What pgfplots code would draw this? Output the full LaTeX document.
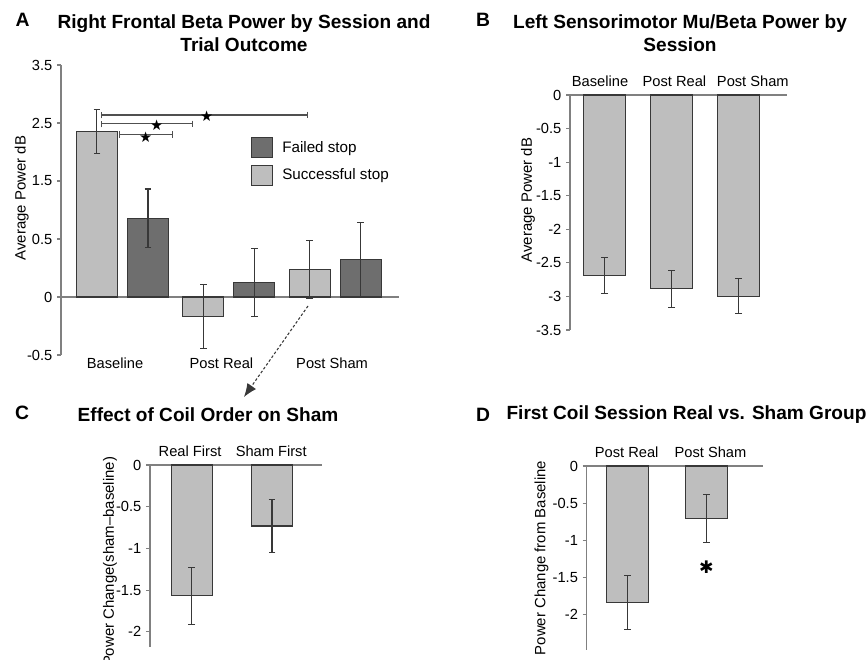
\documentclass[border=0pt]{standalone}
\usepackage{pgfplots}
\pgfplotsset{compat=1.18}
\usepackage{fontspec}
\setmainfont{Liberation Sans}
\newfontfamily\symfont{DejaVu Sans}
\usetikzlibrary{arrows.meta}

\definecolor{lightbar}{HTML}{BEBEBE}
\definecolor{darkbar}{HTML}{6E6E6E}
\definecolor{edge}{HTML}{383838}
\definecolor{axgray}{HTML}{808080}
\definecolor{brk}{HTML}{505050}

\pgfplotsset{
  barpanel/.style={
    scale only axis, clip=false,
    axis y line*=left,
    axis line style={draw=axgray, line width=0.8pt},
    tick align=outside, major tick length=3pt,
    ytick style={draw=axgray, line width=0.8pt},
    xtick style={draw=none},
    /pgf/number format/assume math mode=true,
    tick label style={font=\fontsize{11}{13}\selectfont},
    label style={font=\fontsize{11.2}{13}\selectfont},
  },
  gbar/.style={ybar, bar shift=0pt, draw=edge, line width=0.8pt, fill=#1,
    /pgfplots/error bars/y dir=both,
    /pgfplots/error bars/y explicit,
    /pgfplots/error bars/error bar style={draw=edge, line width=0.8pt},
    /pgfplots/error bars/error mark options={rotate=90, mark size=2.5pt, draw=edge, line width=0.8pt}},
  lgbox/.style={legend image code/.code={\draw[##1] (0pt,-7.5pt) rectangle (15.75pt,7.5pt);}},
}

\begin{document}
\begin{tikzpicture}[x=0.75pt,y=0.75pt]
\useasboundingbox (0,0) rectangle (868,660);

% panel titles
\tikzset{ttl/.style={font=\bfseries\fontsize{14.3}{17.5}\selectfont, align=center, inner sep=0pt},
         lbl/.style={font=\bfseries\fontsize{14.5}{16}\selectfont, inner sep=0pt}}
\node[lbl] at (22.5,640) {A};
\node[ttl] at (244,626.5) {Right Frontal Beta Power by Session and\\Trial Outcome};
\node[lbl] at (483,640) {B};
\node[ttl] at (680,626.5) {Left Sensorimotor Mu/Beta Power by\\Session};
\node[lbl] at (22,247) {C};
\node[ttl] at (208,245) {Effect of Coil Order on Sham};
\node[lbl] at (483,245) {D};
\node[ttl] at (686.5,245) {First Coil Session Real vs. Sham Group};

% A
\begin{axis}[barpanel, at={(45.75pt,446.25pt)}, anchor=north west,
  width=253.5pt, height=217.5pt,
  xmin=0.422, xmax=3.599, ymin=-0.5, ymax=2,
  axis x line*=bottom, x axis line style={draw=none},
  xtick={0.93,1.93,2.97}, xticklabels={Baseline,Post Real,Post Sham},
  xticklabel style={yshift=4.5pt},
  ytick={-0.5,0,0.5,1,1.5,2}, yticklabels={-0.5,0,0.5,1.5,2.5,3.5},
  ylabel={Average Power dB},
  ylabel style={at={(axis description cs:-0.116,0.541)}, anchor=center},
  legend style={draw=none, fill=none, at={(rel axis cs:0.561,0.752)}, anchor=north west,
    inner sep=0pt, row sep=5pt, font=\fontsize{11.4}{13}\selectfont,
    /tikz/every odd column/.append style={column sep=5pt}},
  legend cell align=left]
\draw[axgray, line width=0.8pt] (axis cs:0.422,0) -- (axis cs:3.599,0);
\addplot[gbar=darkbar, bar width=0.385, lgbox] coordinates
  {(1.24,0.678) +- (0,0.253) (2.24,0.126) +- (0,0.296) (3.24,0.32) +- (0,0.322)};
\addlegendentry{Failed stop}
\addplot[gbar=lightbar, bar width=0.385, lgbox] coordinates
  {(0.76,1.426) +- (0,0.193) (1.76,-0.166) +- (0,0.276) (2.76,0.24) +- (0,0.25)};
\addlegendentry{Successful stop}
% significance brackets
\draw[brk, line width=0.8pt, {Bar[width=5pt]}-{Bar[width=5pt]}] (axis cs:0.798,1.569) -- (axis cs:2.741,1.569);
\draw[brk, line width=0.8pt, {Bar[width=5pt]}-{Bar[width=5pt]}] (axis cs:0.798,1.492) -- (axis cs:1.660,1.492);
\draw[brk, line width=0.8pt, {Bar[width=5pt]}-{Bar[width=5pt]}] (axis cs:0.970,1.400) -- (axis cs:1.475,1.400);
\node[font=\symfont\fontsize{11}{11}\selectfont, inner sep=0pt] at (axis cs:1.791,1.560) {★};
\node[font=\symfont\fontsize{11}{11}\selectfont, inner sep=0pt] at (axis cs:1.321,1.482) {★};
\node[font=\symfont\fontsize{11}{11}\selectfont, inner sep=0pt] at (axis cs:1.218,1.380) {★};
\end{axis}

% B
\begin{axis}[barpanel, at={(427.5pt,423.75pt)}, anchor=north west,
  width=162.5pt, height=176.25pt,
  xmin=0.481, xmax=3.715, ymin=-3.5, ymax=0,
  axis x line*=top,
  xtick={0.93,2.04,3.21}, xticklabels={Baseline,Post Real,Post Sham},
  ytick={-3.5,-3,-2.5,-2,-1.5,-1,-0.5,0},
  ylabel={Average Power dB},
  ylabel style={at={(axis description cs:-0.194,0.553)}, anchor=center}]
\addplot[gbar=lightbar, bar width=0.622] coordinates
  {(1,-2.69) +- (0,0.265) (2,-2.887) +- (0,0.272) (3,-3.0) +- (0,0.26)};
\end{axis}

% C
\begin{axis}[barpanel, at={(112.5pt,146.25pt)}, anchor=north west,
  width=128.8pt, height=136.3pt,
  xmin=0.481, xmax=2.619, ymin=-2.18, ymax=0,
  axis x line*=top,
  xtick={0.98,1.99}, xticklabels={Real First,Sham First},
  ytick={-2,-1.5,-1,-0.5,0},
  ylabel={Power Change(sham--baseline)},
  ylabel style={at={(axis description cs:-0.233,1.071)}, anchor=east}]
\addplot[gbar=lightbar, bar width=0.514] coordinates
  {(1,-1.569) +- (0,0.34) (2,-0.732) +- (0,0.318)};
\end{axis}

% D
\begin{axis}[barpanel, at={(440pt,145.5pt)}, anchor=north west,
  width=132.5pt, height=138pt,
  xmin=0.484, xmax=2.719, ymin=-2.48, ymax=0,
  axis x line*=top,
  xtick={0.99,2.05}, xticklabels={Post Real,Post Sham},
  ytick={-2,-1.5,-1,-0.5,0},
  ylabel={Power Change from Baseline},
  ylabel style={at={(axis description cs:-0.255,0.5)}, anchor=center}]
\addplot[gbar=lightbar, bar width=0.527] coordinates
  {(1,-1.842) +- (0,0.36) (2,-0.705) +- (0,0.326)};
\node[font=\symfont\fontsize{13}{13}\selectfont, inner sep=0pt] at (axis cs:2.0,-1.36) {✱};
\end{axis}

% dotted arrow from A to C
\draw[edge, line width=0.8pt, dash pattern=on 2pt off 1.5pt, -{Latex[length=10pt,width=8pt]}] (308,354) -- (244,263);
\end{tikzpicture}
\end{document}
